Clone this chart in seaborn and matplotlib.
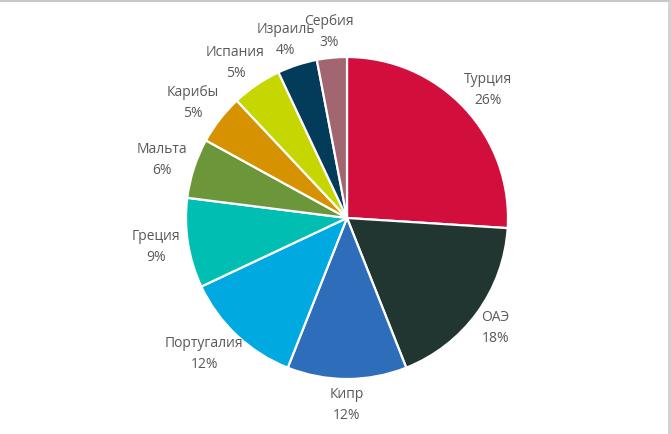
import numpy as np
import matplotlib.pyplot as plt
import seaborn as sns
from matplotlib.lines import Line2D

sns.set_theme(style="white")
plt.rcParams['font.family'] = ['Open Sans', 'DejaVu Sans']

countries = ['Турция', 'ОАЭ', 'Кипр', 'Португалия', 'Греция',
             'Мальта', 'Карибы', 'Испания', 'Израиль', 'Сербия']
shares = [26, 18, 12, 12, 9, 6, 5, 5, 4, 3]
colors = ['#D20F3C', '#223631', '#2E6DB9', '#00A9DF', '#00BFB2',
          '#6C963A', '#D69200', '#C5D600', '#023C5A', '#A16670']

fig = plt.figure(figsize=(6.71, 4.34), dpi=100)
ax = fig.add_axes([0, 0, 1, 1])
ax.set_axis_off()

wedges, _ = ax.pie(shares, colors=colors, startangle=90, counterclock=False,
                   radius=1, center=(0, 0),
                   wedgeprops=dict(edgecolor='white', linewidth=1.6))
ax.set_xlim(-347 / 161, (671 - 347) / 161)
ax.set_ylim(-216 / 161, 218 / 161)
ax.set_aspect('auto')

fig.canvas.draw()
renderer = fig.canvas.get_renderer()
inv = ax.transData.inverted()
for w, name, v in zip(wedges, countries, shares):
    ang = np.deg2rad((w.theta1 + w.theta2) / 2)
    cx, cy = np.cos(ang), np.sin(ang)
    ax_, ay_ = 1.05 * cx, 1.05 * cy
    t = ax.text(ax_, ay_, f"{name}\n{v}%", ha='center', va='center',
                fontsize=10, color='#595959', linespacing=1.55)
    bb = t.get_window_extent(renderer)
    p0 = inv.transform((bb.x0, bb.y0))
    p1 = inv.transform((bb.x1, bb.y1))
    tw, th = p1[0] - p0[0], p1[1] - p0[1]
    t.set_position((ax_ + cx * tw / 2, ay_ + cy * th / 2))

# thin frame lines at top and right like the screenshot
fig.add_artist(Line2D([0, 1], [0.998, 0.998], transform=fig.transFigure,
                      color='#C8C8C8', linewidth=1.5))
fig.add_artist(Line2D([0.997, 0.997], [0, 1], transform=fig.transFigure,
                      color='#D0D0D0', linewidth=2))

fig.savefig('out.png', dpi=100)
